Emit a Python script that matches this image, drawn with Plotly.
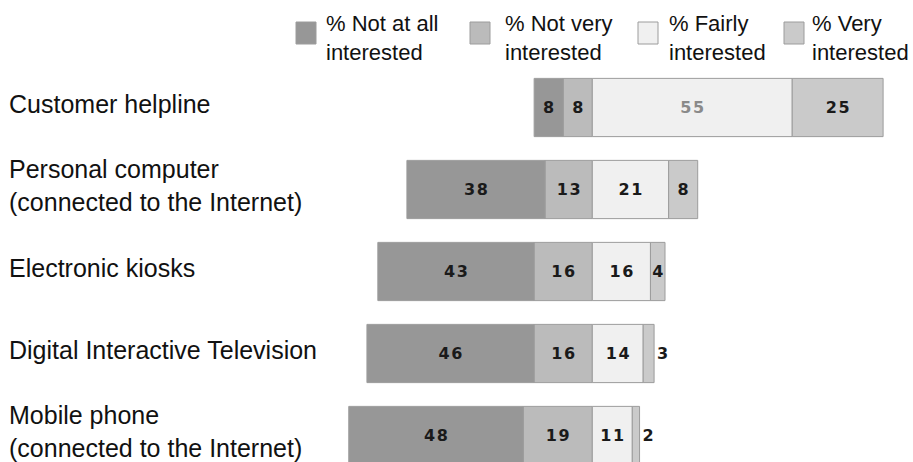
import plotly.graph_objects as go

# ---- data -----------------------------------------------------------------
categories = [
    "Customer helpline",
    "Personal computer<br>(connected to the Internet)",
    "Electronic kiosks",
    "Digital Interactive Television",
    "Mobile phone<br>(connected to the Internet)",
]
not_at_all = [8, 38, 43, 46, 48]
not_very = [8, 13, 16, 16, 19]
fairly = [55, 21, 16, 14, 11]
very = [25, 8, 4, 3, 2]
series_names = [
    "% Not at all<br>interested",
    "% Not very<br>interested",
    "% Fairly<br>interested",
    "% Very<br>interested",
]

# ---- styling --------------------------------------------------------------
W, H = 913, 462
C_NOT_AT_ALL = "#979797"
C_NOT_VERY = "#bbbbbb"
C_FAIRLY = "#f0f0f0"
C_VERY = "#cacaca"
EDGE = "#9c9c9c"
SERIES_COLORS = [C_NOT_AT_ALL, C_NOT_VERY, C_FAIRLY, C_VERY]
TEXT_FONT = "Arial, Liberation Sans, sans-serif"
VALUE_FONT = dict(family="DejaVu Sans", size=16, color="#1a1a1a", weight="bold")
BAR_WIDTH = 0.71


def spaced(v):
    # value labels are drawn with a little tracking between digits
    return "\u200a".join(str(v))


def bar(values, color, negative=False, positions="inside", text_colors=None):
    font = dict(VALUE_FONT)
    if text_colors is not None:
        font["color"] = text_colors
    return go.Bar(
        y=categories,
        x=[-v for v in values] if negative else values,
        orientation="h",
        width=BAR_WIDTH,
        marker=dict(color=color, line=dict(color=EDGE, width=1)),
        text=[spaced(v) for v in values],
        textposition=positions,
        insidetextanchor="middle",
        constraintext="none",
        textangle=0,
        textfont=font,
        cliponaxis=False,
        showlegend=False,
        hoverinfo="skip",
    )


fig = go.Figure()
# negative side: the trace added first sits next to zero
fig.add_trace(bar(not_very, C_NOT_VERY, negative=True))
fig.add_trace(bar(not_at_all, C_NOT_AT_ALL, negative=True))
fig.add_trace(bar(fairly, C_FAIRLY,
                  text_colors=["#8a8a8a" if v == max(fairly) else "#1a1a1a" for v in fairly]))
fig.add_trace(bar(very, C_VERY,
                  positions=["inside" if v >= 4 else "outside" for v in very]))

annotations = []
# category labels, left aligned next to each row
for i, cat in enumerate(categories):
    annotations.append(dict(
        x=7 / W, xref="paper", xanchor="left",
        y=i, yref="y", yanchor="middle", yshift=4,
        text=cat, align="left", showarrow=False,
        font=dict(family=TEXT_FONT, size=25, color="#111111"),
    ))

# custom legend across the top
shapes = []
LEG_SWATCH_X = [296, 470, 638, 784]
LEG_TEXT_X = [324, 503, 667, 810]
for k, name in enumerate(series_names):
    x0 = LEG_SWATCH_X[k]
    shapes.append(dict(
        type="rect", xref="paper", yref="paper",
        x0=x0 / W, x1=(x0 + 20) / W,
        y0=1 - 44 / H, y1=1 - 22 / H,
        fillcolor=SERIES_COLORS[k], line=dict(color=EDGE, width=1),
    ))
    annotations.append(dict(
        x=LEG_TEXT_X[k] / W, xref="paper", xanchor="left",
        y=1 - 38 / H, yref="paper", yanchor="middle",
        text=name, align="left", showarrow=False,
        font=dict(family=TEXT_FONT, size=22, color="#111111"),
    ))

PX_PER_UNIT = 3.635
ZERO_PX = 592.3
ROW0_PX, ROW_STEP = 107.5, 82.0

fig.update_layout(
    width=W, height=H,
    margin=dict(l=0, r=0, t=0, b=0),
    paper_bgcolor="white", plot_bgcolor="white",
    barmode="relative",
    xaxis=dict(range=[-ZERO_PX / PX_PER_UNIT, (W - ZERO_PX) / PX_PER_UNIT],
               visible=False, fixedrange=True),
    yaxis=dict(type="category",
               range=[(H - ROW0_PX) / ROW_STEP, -ROW0_PX / ROW_STEP],
               visible=False, fixedrange=True),
    annotations=annotations,
    shapes=shapes,
    showlegend=False,
)

fig.write_html("out.html")
